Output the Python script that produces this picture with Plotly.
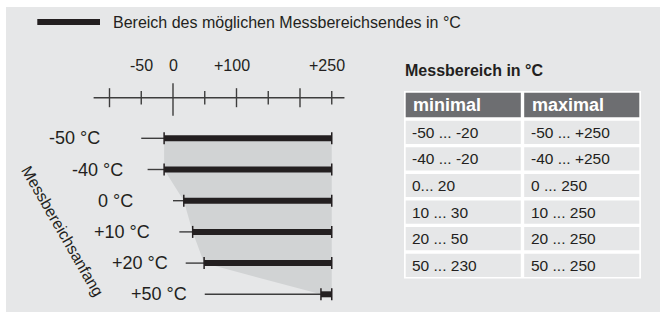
import plotly.graph_objects as go

# ---------------- data ----------------
row_labels = ["-50 °C", "-40 °C", "0 °C", "+10 °C", "+20 °C", "+50 °C"]
range_start = [-50, -40, 0, 10, 20, 50]          # Messbereichsanfang (thin line start)
end_start = [-14, -14, 17, 31, 49, 233]           # start of possible end-of-range (thick bar)
end_stop = [250, 250, 250, 250, 250, 250]         # end of thick bar

axis_min, axis_max = -125, 270
major_ticks = [-100, 100, 200]
minor_ticks = [-50, 50, 150, 250]
zero_tick = 0
tick_label_vals = [-50, 0, 100, 250]
tick_label_text = ["-50", "0", "+100", "+250"]

table_title = "Messbereich in °C"
table_header = ["minimal", "maximal"]
col_minimal = ["-50 ... -20", "-40 ... -20", "0... 20", "10 ... 30", "20 ... 50", "50 ... 230"]
col_maximal = ["-50 ... +250", "-40 ... +250", "0 ... 250", "10 ... 250", "20 ... 250", "50 ... 250"]

legend_text = "Bereich des möglichen Messbereichsendes in °C"
y_title = "Messbereichsanfang"

# ---------------- layout constants ----------------
W, H = 660, 313
FONT = "Liberation Sans, Arial, Helvetica, sans-serif"
TXT = "#231f20"
BG = "#e6e7e8"
SHADE = "#d1d3d4"
DARK = "#231f20"
THIN = "#3d3d3d"
HEAD = "#6d6e71"

px_per_unit = 0.635
x0_px = 173.0
xr = [(-x0_px) / px_per_unit, (W - x0_px) / px_per_unit]
row0_px, row_pitch = 138.3, 31.2
yr = [(H - row0_px) / row_pitch, (0 - row0_px) / row_pitch]


def py(px):
    return (px - row0_px) / row_pitch


def dy(px):
    return px / row_pitch


def paper_y(px):
    return 1 - px / H


rows = list(range(len(row_labels)))
axis_row = py(97.7)

fig = go.Figure()

# shaded polygon
poly_x = end_start + [end_stop[-1], end_stop[0]]
poly_y = rows + [rows[-1], rows[0]]
fig.add_trace(go.Scatter(x=poly_x, y=poly_y, fill="toself", fillcolor=SHADE,
                         mode="lines", line=dict(width=0), hoverinfo="skip"))

# thin lines
tx, ty = [], []
for r, a, b in zip(rows, range_start, end_start):
    tx += [a, b, None]
    ty += [r, r, None]
fig.add_trace(go.Scatter(x=tx, y=ty, mode="lines", line=dict(color=THIN, width=1.4), hoverinfo="skip"))

# thick bars
bx, by = [], []
for r, a, b in zip(rows, end_start, end_stop):
    bx += [a, b, None]
    by += [r, r, None]
fig.add_trace(go.Scatter(x=bx, y=by, mode="lines", line=dict(color=DARK, width=6), hoverinfo="skip"))

# end ticks
ex, ey = [], []
h = dy(6)
for r, a, b in zip(rows, end_start, end_stop):
    for v in (a, b):
        ex += [v, v, None]
        ey += [r - h, r + h, None]
fig.add_trace(go.Scatter(x=ex, y=ey, mode="lines", line=dict(color=DARK, width=1.5), hoverinfo="skip"))

# top axis
ax_x = [axis_min, axis_max]
ax_y = [axis_row, axis_row]
fig.add_trace(go.Scatter(x=ax_x, y=ax_y, mode="lines", line=dict(color=THIN, width=1.5), hoverinfo="skip"))
kx, ky = [], []
for v in major_ticks:
    kx += [v, v, None]
    ky += [axis_row - dy(9.5), axis_row + dy(9.5), None]
for v in minor_ticks:
    kx += [v, v, None]
    ky += [axis_row - dy(6.7), axis_row + dy(6.7), None]
kx += [zero_tick, zero_tick, None]
ky += [axis_row - dy(14.4), axis_row + dy(18), None]
fig.add_trace(go.Scatter(x=kx, y=ky, mode="lines", line=dict(color=THIN, width=1.4), hoverinfo="skip"))

annotations = []
# tick labels
for v, t in zip(tick_label_vals, tick_label_text):
    annotations.append(dict(x=v, y=paper_y(65), xref="x", yref="paper", text=t,
                            showarrow=False, xanchor="center", yanchor="middle",
                            xshift=-4.5 if t.startswith("+") else 0,
                            font=dict(family=FONT, size=16, color=TXT)))

# row labels
label_right_px = [102, 124.5, 135, 152, 170, 188.5]
for r, t, rp in zip(rows, row_labels, label_right_px):
    annotations.append(dict(x=rp / W, y=r, xref="paper", yref="y", text=t,
                            showarrow=False, xanchor="right", yanchor="middle",
                            font=dict(family=FONT, size=18, color=TXT)))

# rotated axis title
annotations.append(dict(x=63 / W, y=paper_y(231), xref="paper", yref="paper", text=y_title,
                        showarrow=False, textangle=60, xanchor="center", yanchor="middle",
                        font=dict(family=FONT, size=16, color=TXT)))

# legend
annotations.append(dict(x=110.5 / W, y=paper_y(22), xref="paper", yref="paper", text=legend_text,
                        showarrow=False, xanchor="left", yanchor="middle",
                        font=dict(family=FONT, size=16, color=TXT)))

# table title
annotations.append(dict(x=402.5 / W, y=paper_y(71), xref="paper", yref="paper",
                        text="<b>" + table_title + "</b>",
                        showarrow=False, xanchor="left", yanchor="middle",
                        font=dict(family=FONT, size=16, color=TXT)))

shapes = [
    dict(type="rect", xref="paper", yref="paper", x0=6 / W, x1=1, y0=paper_y(312), y1=paper_y(7),
         fillcolor=BG, line=dict(width=0), layer="below"),
    dict(type="line", xref="paper", yref="paper", x0=37.3 / W, x1=100 / W,
         y0=paper_y(22), y1=paper_y(22), line=dict(color=DARK, width=6)),
]

# ---------------- table (own axes x2/y2, y2 in pixel-like units from table top) ----------------
tbl_left, tbl_right = 404.0, 641.0       # outer cell boundaries (px)
tbl_top = 91.0
header_h, row_h, gap = 28.0, 26.6, 3.4
n_rows = len(col_minimal)
tbl_h = header_h + n_rows * row_h
col_w_px = (tbl_right - tbl_left) / 2
pad_px = 7.5

# white frame behind
shapes.append(dict(type="rect", xref="x2", yref="y2",
                   x0=-(gap / 2) / col_w_px, x1=2 + (gap / 2) / col_w_px,
                   y0=-gap / 2, y1=tbl_h + gap / 2,
                   fillcolor="white", line=dict(width=0), layer="below"))

columns = [col_minimal, col_maximal]
gx = gap / 2 / col_w_px
for c in range(2):
    # header cell
    shapes.append(dict(type="rect", xref="x2", yref="y2", x0=c + gx, x1=c + 1 - gx,
                       y0=gap / 2, y1=header_h - gap / 2, fillcolor=HEAD, line=dict(width=0), layer="below"))
    annotations.append(dict(x=c + pad_px / col_w_px, y=header_h / 2, xref="x2", yref="y2",
                            text="<b>" + table_header[c] + "</b>", showarrow=False,
                            xanchor="left", yanchor="middle", xshift=0,
                            font=dict(family=FONT, size=18, color="white")))
    for i, val in enumerate(columns[c]):
        top = header_h + i * row_h
        shapes.append(dict(type="rect", xref="x2", yref="y2", x0=c + gx, x1=c + 1 - gx,
                           y0=top + gap / 2, y1=top + row_h - gap / 2,
                           fillcolor=BG, line=dict(width=0), layer="below"))
        annotations.append(dict(x=c + pad_px / col_w_px, y=top + row_h / 2, xref="x2", yref="y2",
                                text=val, showarrow=False, xanchor="left", yanchor="middle", xshift=-1.5,
                                font=dict(family=FONT, size=15.5, color=TXT)))

# invisible anchor trace for table axes
fig.add_trace(go.Scatter(x=[0, 2], y=[0, tbl_h], xaxis="x2", yaxis="y2", mode="markers",
                         marker=dict(opacity=0), hoverinfo="skip"))

fig.update_layout(
    width=W, height=H, margin=dict(l=0, r=0, t=0, b=0),
    paper_bgcolor="white", plot_bgcolor="rgba(0,0,0,0)",
    showlegend=False,
    xaxis=dict(range=xr, domain=[0, 1], visible=False, fixedrange=True),
    yaxis=dict(range=yr, domain=[0, 1], visible=False, fixedrange=True),
    xaxis2=dict(range=[0, 2], domain=[tbl_left / W, tbl_right / W], anchor="y2",
                visible=False, fixedrange=True),
    yaxis2=dict(range=[tbl_h, 0], domain=[paper_y(tbl_top + tbl_h), paper_y(tbl_top)], anchor="x2",
                visible=False, fixedrange=True),
    shapes=shapes, annotations=annotations,
)

fig.write_html("out.html", config={"displayModeBar": False},
               post_script="document.body.style.margin='0';document.body.style.overflow='hidden';")
